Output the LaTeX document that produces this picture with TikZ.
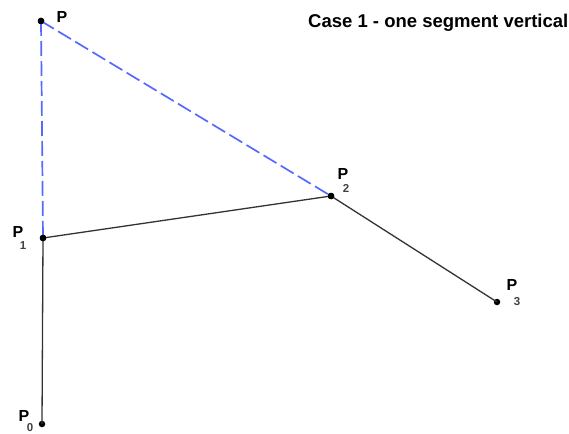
\documentclass[tikz,border=0pt]{standalone}
\usepackage{fontspec}
\setmainfont{Liberation Sans}
\begin{document}
\begin{tikzpicture}[x=1pt,y=-1pt,
  pt/.style={circle,fill=black,inner sep=0pt,minimum size=6.5pt},
  seg/.style={draw=black!80,line width=1.3pt},
  helper/.style={draw={rgb,255:red,85;green,105;blue,255},line width=1.7pt,dash pattern=on 15pt off 5pt},
  lbl/.style={font=\bfseries\fontsize{16}{16}\selectfont,inner sep=0pt},
  sub/.style={font=\bfseries\fontsize{11.5}{11.5}\selectfont,text=black!75,inner sep=0pt}]
\useasboundingbox (0,0) rectangle (569,433);
\node[pt] (P) at (41,21) {};
\node[pt] (P1) at (43,238) {};
\node[pt] (P0) at (42,424) {};
\node[pt] (P2) at (331,196) {};
\node[pt] (P3) at (497,302) {};
\draw[helper] (P.center) -- (P1.center);
\draw[helper] (P.center) -- (P2.center);
\draw[seg] (P0.center) -- (P1.center);
\draw[seg] (P1.center) -- (P2.center);
\draw[seg] (P2.center) -- (P3.center);
\node[pt] at (P) {};
\node[pt] at (P1) {};
\node[pt] at (P2) {};
\node[lbl] (lP) at (62,17) {P};
\node[lbl] (lP1) at (18,232) {P};
\node[sub] (s1) at (23,246) {1};
\node[lbl] (lP0) at (24,416) {P};
\node[sub] (s0) at (30,428) {0};
\node[lbl] (lP2) at (343,174) {P};
\node[sub] (s2) at (346,188) {2};
\node[lbl] (lP3) at (512,285) {P};
\node[sub] (s3) at (517,302) {3};
\node[font=\bfseries\fontsize{18.5}{18.5}\selectfont,inner sep=0pt,anchor=west] (title) at (308,23) {Case 1 - one segment vertical};
\end{tikzpicture}
\end{document}
